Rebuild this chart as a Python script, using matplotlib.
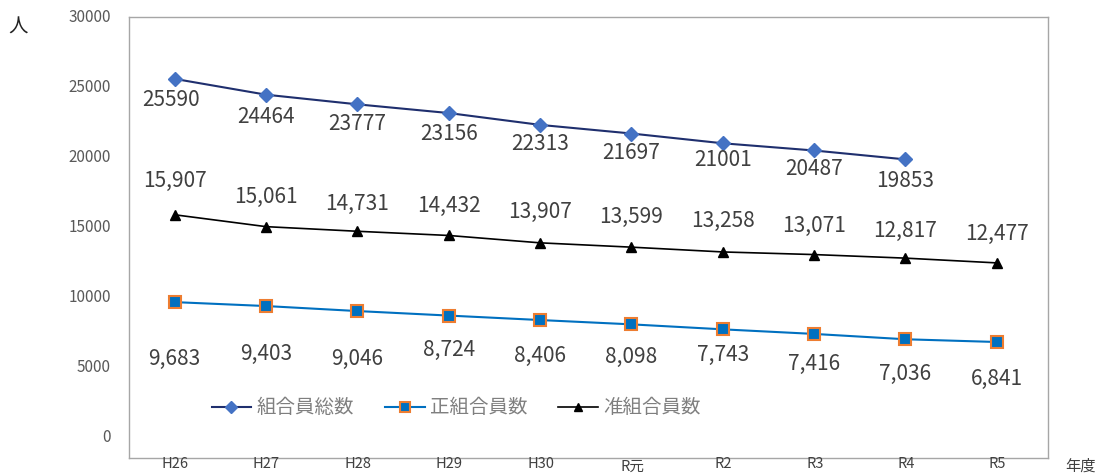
import numpy as np
import matplotlib.pyplot as plt

plt.rcParams['font.family'] = ['Noto Sans CJK JP', 'DejaVu Sans']

years = ['H26', 'H27', 'H28', 'H29', 'H30', 'R元', 'R2', 'R3', 'R4', 'R5']
total = [25590, 24464, 23777, 23156, 22313, 21697, 21001, 20487, 19853]
regular = [9683, 9403, 9046, 8724, 8406, 8098, 7743, 7416, 7036, 6841]
associate = [15907, 15061, 14731, 14432, 13907, 13599, 13258, 13071, 12817, 12477]

# label offsets in pixels (positive = downward)
total_off = [21, 22, 20, 21, 19, 19, 17, 19, 22]
regular_off = [57, 48, 48, 34, 36, 33, 26, 30, 35, 37]
assoc_off = [-34, -30, -27, -30, -31, -30, -31, -29, -27, -29]

W, H = 1101, 476
fig = plt.figure(figsize=(W / 100, H / 100), dpi=100)
ax = fig.add_axes([129 / W, 1 - 458 / H, (1048 - 129) / W, (458 - 17) / H])

px = 30000 / (438 - 17)
ax.set_ylim(-20 * px, 30000)
ax.set_xlim(-0.5, 9.56)

x = np.arange(len(years))
ax.plot(x[:len(total)], total, color='#1F2F6E', lw=1.5, marker='D', ms=7,
        mfc='#4472C4', mec='#4472C4', label='組合員総数')
ax.plot(x, regular, color='#0070C0', lw=1.5, marker='s', ms=8,
        mfc='#0070C0', mec='#ED7D31', mew=1.5, label='正組合員数')
ax.plot(x, associate, color='black', lw=1.2, marker='^', ms=7,
        mfc='black', mec='black', label='准組合員数')

lab = dict(ha='center', va='center', fontsize=15, color='#404040',
           textcoords='offset pixels')
for i, v in enumerate(total):
    ax.annotate(str(v), (i, v), xytext=(-4 if i == 0 else 0, -total_off[i]), **lab)
for i, v in enumerate(regular):
    ax.annotate(f'{v:,}', (i, v), xytext=(0, -regular_off[i]), **lab)
for i, v in enumerate(associate):
    ax.annotate(f'{v:,}', (i, v), xytext=(0, -assoc_off[i]), **lab)

ax.set_xticks([])
ax.set_yticks([])
for s in ax.spines.values():
    s.set_color('#A6A6A6')
    s.set_linewidth(1)

# tick labels sit outside the frame
for t in range(0, 30001, 5000):
    ax.annotate(str(t), (-0.5, t), xytext=(-18, 0), textcoords='offset pixels',
                ha='right', va='center', fontsize=11, color='#595959',
                annotation_clip=False)
for i, name in enumerate(years):
    fig.text((175 + 91.4 * i) / W, 1 - (467 if name == 'R元' else 464) / H, name,
             ha='center', va='center', fontsize=10.5, color='#404040')

fig.text(18 / W, 1 - 27 / H, '人', ha='center', va='center', fontsize=14, color='#222222')
fig.text(1080 / W, 1 - 466 / H, '年度', ha='center', va='center', fontsize=11, color='#404040')

leg = ax.legend(loc='center', bbox_to_anchor=(456 / W, 1 - 408 / H),
                bbox_transform=fig.transFigure, ncol=3, frameon=False,
                fontsize=14, handlelength=2.05, columnspacing=1.6,
                handletextpad=0.25, markerscale=0.85)
for t in leg.get_texts():
    t.set_color('#7F7F7F')

fig.savefig('out.png', dpi=100)
